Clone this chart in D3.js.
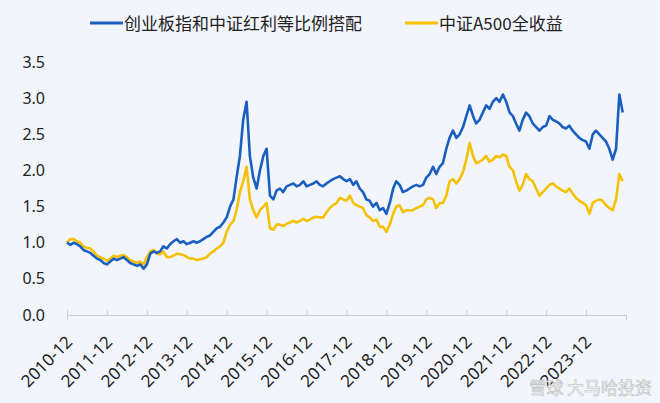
<!DOCTYPE html>
<html><head><meta charset="utf-8">
<script src="https://cdn.jsdelivr.net/npm/d3@7"></script>
<style>body{margin:0;background:#f2f6fc;}</style>
</head><body><div id="chart"></div>
<script>
const seriesNames = ["创业板指和中证红利等比例搭配", "中证A500全收益"];
const colors = ["#1a5fc0", "#f5c000"];
const startMonth = "2010-12";
const blue = [1.00,
  0.97,1.00,0.98,0.95,0.90,0.88,0.86,0.82,0.78,0.76,0.72,0.70,
  0.74,0.78,0.76,0.78,0.80,0.76,0.72,0.70,0.68,0.70,0.64,0.70,
  0.85,0.88,0.86,0.88,0.95,0.92,0.98,1.02,1.05,1.00,1.02,0.98,
  1.00,1.02,1.00,1.02,1.05,1.08,1.10,1.15,1.20,1.22,1.28,1.35,
  1.50,1.60,1.90,2.20,2.70,2.95,2.20,1.90,1.75,2.00,2.20,2.30,
  1.65,1.60,1.72,1.75,1.70,1.78,1.80,1.82,1.78,1.80,1.85,1.78,
  1.80,1.82,1.85,1.80,1.78,1.82,1.85,1.88,1.90,1.92,1.88,1.85,
  1.88,1.80,1.85,1.75,1.70,1.60,1.58,1.50,1.55,1.45,1.48,1.40,
  1.55,1.75,1.85,1.80,1.70,1.72,1.75,1.78,1.80,1.78,1.80,1.90,
  1.95,2.05,1.95,2.05,2.10,2.30,2.45,2.55,2.45,2.50,2.60,2.75,
  2.90,2.75,2.65,2.70,2.80,2.90,2.85,2.95,3.00,2.95,3.05,2.95,
  2.80,2.75,2.65,2.55,2.70,2.80,2.75,2.65,2.60,2.55,2.60,2.62,
  2.75,2.70,2.68,2.65,2.60,2.58,2.62,2.55,2.50,2.45,2.42,2.40,
  2.30,2.50,2.55,2.50,2.45,2.40,2.30,2.15,2.30,3.05,2.80];
const yellow = [1.00,
  1.05,1.05,1.02,1.00,0.95,0.93,0.92,0.88,0.82,0.80,0.78,0.75,
  0.78,0.82,0.80,0.82,0.83,0.80,0.76,0.74,0.72,0.74,0.70,0.80,
  0.88,0.90,0.85,0.84,0.88,0.80,0.80,0.82,0.85,0.84,0.83,0.80,
  0.78,0.78,0.76,0.77,0.78,0.80,0.85,0.88,0.92,0.95,1.00,1.15,
  1.25,1.30,1.45,1.70,1.85,2.05,1.60,1.45,1.35,1.45,1.50,1.55,
  1.20,1.18,1.25,1.25,1.23,1.26,1.28,1.30,1.28,1.30,1.33,1.30,
  1.32,1.35,1.36,1.35,1.35,1.42,1.48,1.52,1.55,1.62,1.60,1.58,
  1.65,1.55,1.52,1.50,1.48,1.38,1.35,1.30,1.32,1.22,1.22,1.15,
  1.25,1.40,1.50,1.52,1.42,1.45,1.45,1.45,1.48,1.50,1.52,1.60,
  1.62,1.60,1.48,1.55,1.55,1.65,1.85,1.88,1.82,1.88,1.98,2.15,
  2.38,2.20,2.10,2.12,2.15,2.20,2.12,2.15,2.20,2.18,2.22,2.20,
  2.05,2.00,1.85,1.72,1.80,1.95,1.88,1.85,1.75,1.65,1.70,1.75,
  1.80,1.82,1.78,1.75,1.72,1.70,1.75,1.68,1.62,1.58,1.55,1.52,
  1.40,1.55,1.58,1.60,1.58,1.52,1.48,1.45,1.60,1.95,1.85];
const xTicks = ["2010-12","2011-12","2012-12","2013-12","2014-12","2015-12","2016-12",
  "2017-12","2018-12","2019-12","2020-12","2021-12","2022-12","2023-12"];
const yTicks = [0,0.5,1,1.5,2,2.5,3,3.5];

const W = 660, H = 403;
const parse = d3.timeParse("%Y-%m");
const t0 = parse(startMonth);
const dates = blue.map((_, i) => d3.timeMonth.offset(t0, i));

const x = d3.scaleTime().domain([t0, parse("2024-12")]).range([67, 626]);
const y = d3.scaleLinear().domain([0, 3.5]).range([315, 62]);

const svg = d3.select("#chart").append("svg").attr("width", W).attr("height", H)
  .style("font-family", "'Noto Sans CJK SC','Noto Sans',sans-serif");
svg.append("rect").attr("width", W).attr("height", H).attr("fill", "#f2f6fc");

// y axis
const ya = svg.append("g").attr("transform", "translate(48,0)")
  .call(d3.axisLeft(y).tickValues(yTicks).tickFormat(d3.format(".1f")).tickSize(0));
ya.select(".domain").remove();
ya.selectAll("text").attr("font-size", 16).attr("fill", "#222").attr("font-family", "'Noto Sans',sans-serif");

// x axis
const xa = svg.append("g").attr("transform", `translate(0,${y(0)})`)
  .call(d3.axisBottom(x).tickValues(xTicks.map(parse)).tickFormat(d3.timeFormat("%Y-%m")).tickSize(5));
xa.select(".domain").attr("stroke", "#c8ccd4");
xa.selectAll(".tick line").attr("stroke", "#c8ccd4").attr("y1", -5).attr("y2", 0);
xa.selectAll("text").attr("font-size", 17).attr("fill", "#222")
  .attr("font-family", "'Noto Sans',sans-serif")
  .attr("text-anchor", "end").attr("x", 0).attr("y", 0).attr("dy", 0)
  .attr("transform", "translate(6,28) rotate(-45)");

const line = d3.line().x((d, i) => x(dates[i])).y(d => y(d)).curve(d3.curveLinear);
[yellow, blue].forEach((s, k) => {
  svg.append("path").datum(s).attr("fill", "none")
    .attr("stroke", k === 0 ? colors[1] : colors[0])
    .attr("stroke-width", 2.6).attr("stroke-linejoin", "round").attr("d", line);
});

// legend
const leg = [{x: 90, n: 0}, {x: 405, n: 1}];
leg.forEach(l => {
  svg.append("line").attr("x1", l.x).attr("x2", l.x + 33).attr("y1", 23).attr("y2", 23)
    .attr("stroke", colors[l.n]).attr("stroke-width", 3);
  svg.append("text").attr("x", l.x + 34).attr("y", 30).attr("font-size", 17).attr("fill", "#222")
    .text(seriesNames[l.n]);
});

svg.append("text").attr("x", 652).attr("y", 394).attr("text-anchor", "end")
  .attr("font-size", 17).attr("fill", "#fff").attr("stroke", "#bbb").attr("stroke-width", 0.6)
  .text("雪球 大马哈投资");
</script></body></html>
